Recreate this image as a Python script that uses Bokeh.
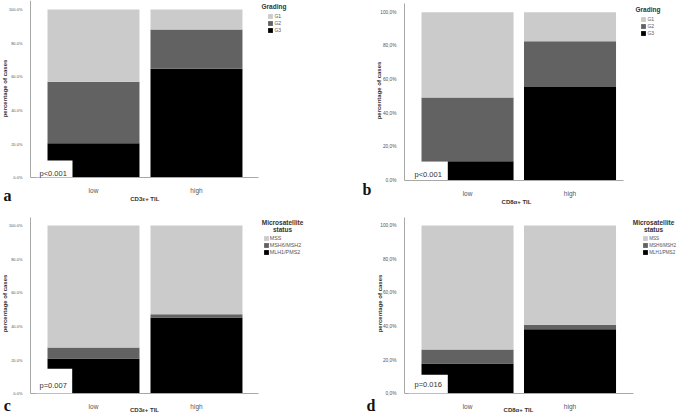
import math
from bokeh.plotting import figure
from bokeh.models import (ColumnDataSource, Range1d, FixedTicker, Label,
                          BoxAnnotation, Legend, LegendItem)
from bokeh.layouts import row, column
from bokeh.embed import file_html
from bokeh.resources import INLINE

# ---------------- data ----------------
categories = ["low", "high"]
grading_labels = ["G1", "G2", "G3"]
msi_labels = ["MSS", "MSH6/MSH2", "MLH1/PMS2"]

# a) CD3e+ TIL vs grading (percentage of cases)
cd3_G3 = [20.6, 64.8]
cd3_G2 = [36.4, 23.3]
cd3_G1 = [43.0, 11.9]
# b) CD8a+ TIL vs grading
cd8_G3 = [11.5, 55.6]
cd8_G2 = [37.8, 27.2]
cd8_G1 = [50.7, 17.2]
# c) CD3e+ TIL vs microsatellite status
cd3_MLH1 = [21.0, 45.3]
cd3_MSH6 = [6.5, 2.0]
cd3_MSS = [72.5, 52.7]
# d) CD8a+ TIL vs microsatellite status
cd8_MLH1 = [18.0, 38.4]
cd8_MSH6 = [8.3, 2.6]
cd8_MSS = [73.7, 59.0]

p_values = ["p<0.001", "p<0.001", "p=0.007", "p=0.016"]
panel_letters = ["a", "b", "c", "d"]
x_titles = ["CD3\u03b5+ TIL", "CD8\u03b1+ TIL", "CD3\u03b5+ TIL", "CD8\u03b1+ TIL"]
y_title = "percentage of cases"
y_ticks = [0, 20, 40, 60, 80, 100]
y_tick_labels_point = ["0.0%", "20.0%", "40.0%", "60.0%", "80.0%", "100.0%"]
y_tick_labels_comma = ["0,0%", "20,0%", "40,0%", "60,0%", "80,0%", "100,0%"]
legend_title_grading = ["Grading"]
legend_title_msi = ["Microsatellite", "status"]

seg_colors = ["#000000", "#626262", "#cbcbcb"]  # bottom -> top
FONT = "Liberation Sans"


def make_panel(idx, stacks, series_names, tick_labels, tick_font, width,
               height, xr, yr, y_axis_x, y_axis_top, x_axis_end, bar_w,
               ytitle_pos, xtitle_pos, letter_pos, pbox, ptext, legend_pos,
               legend_font, titles, title_x, title_tops, title_align):
    p = figure(width=width, height=height, x_range=Range1d(*xr),
               y_range=Range1d(*yr), output_backend="svg",
               toolbar_location=None, title=None,
               min_border_left=0, min_border_right=0,
               min_border_top=0, min_border_bottom=0,
               background_fill_color="white", border_fill_color="white",
               outline_line_color=None)
    src = ColumnDataSource(dict(x=list(range(len(categories))),
                                s0=stacks[0], s1=stacks[1], s2=stacks[2]))
    rs = p.vbar_stack(["s0", "s1", "s2"], x="x", width=bar_w,
                      color=seg_colors, line_color=None, source=src)
    p.xgrid.visible = False
    p.ygrid.visible = False

    xa = p.xaxis[0]
    xa.fixed_location = 0
    xa.bounds = (y_axis_x, x_axis_end)
    xa.ticker = FixedTicker(ticks=list(range(len(categories))), minor_ticks=[])
    xa.major_label_overrides = {i: c for i, c in enumerate(categories)}
    xa.axis_line_color = "#a8a8a8"
    xa.major_tick_line_color = None
    xa.minor_tick_line_color = None
    xa.major_label_standoff = 3
    xa.major_label_text_font = FONT
    xa.major_label_text_font_size = "6.5px"
    xa.major_label_text_color = "#555555"

    ya = p.yaxis[0]
    ya.fixed_location = y_axis_x
    ya.bounds = (0, y_axis_top)
    ya.ticker = FixedTicker(ticks=y_ticks, minor_ticks=[])
    ya.major_label_overrides = dict(zip(y_ticks, tick_labels))
    ya.axis_line_color = "#a8a8a8"
    ya.major_tick_line_color = None
    ya.minor_tick_line_color = None
    ya.major_label_standoff = 2
    ya.major_label_text_font = FONT
    ya.major_label_text_font_size = tick_font
    ya.major_label_text_color = "#555555"

    # axis titles
    p.add_layout(Label(x=ytitle_pos[0], y=ytitle_pos[1], x_units="screen",
                       y_units="screen", text=y_title, angle=math.pi / 2,
                       text_align="center", text_baseline="middle",
                       text_font=FONT, text_font_size="6px",
                       text_font_style="bold", text_color="#333333"))
    p.add_layout(Label(x=xtitle_pos[0], y=xtitle_pos[1], x_units="screen",
                       y_units="screen", text=x_titles[idx],
                       text_align="center", text_baseline="top",
                       text_font=FONT, text_font_size="6px",
                       text_font_style="bold", text_color="#333333"))

    # p-value box
    p.add_layout(BoxAnnotation(left=pbox[0], right=pbox[1], bottom=pbox[3],
                               top=pbox[2], left_units="screen",
                               right_units="screen", bottom_units="screen",
                               top_units="screen", fill_color="white",
                               fill_alpha=1.0, line_color=None))
    p.add_layout(Label(x=ptext[0], y=ptext[1], x_units="screen",
                       y_units="screen", text=p_values[idx],
                       text_baseline="alphabetic", text_align="left",
                       text_font=FONT, text_font_size="7.5px",
                       text_color="#333333"))

    # panel letter
    p.add_layout(Label(x=letter_pos[0], y=letter_pos[1], x_units="screen",
                       y_units="screen", text=panel_letters[idx],
                       text_font="Liberation Serif", text_font_style="bold",
                       text_font_size="16px", text_baseline="alphabetic",
                       text_color="#111111"))

    # legend
    items = [LegendItem(label=series_names[k], renderers=[rs[2 - k]])
             for k in range(3)]
    leg = Legend(items=items, location=legend_pos, orientation="vertical",
                 glyph_width=6, glyph_height=6, label_height=6,
                 label_width=10, spacing=1, padding=0, margin=0,
                 label_standoff=1, label_text_font=FONT,
                 label_text_font_size=legend_font, label_text_color="#555555",
                 border_line_color=None, background_fill_alpha=0)
    p.add_layout(leg)
    for t, top in zip(titles, title_tops):
        p.add_layout(Label(x=title_x, y=top, x_units="screen",
                           y_units="screen", text=t, text_align=title_align,
                           text_baseline="top", text_font=FONT,
                           text_font_size="6.5px", text_font_style="bold",
                           text_color="#333333"))
    return p


pa = make_panel(0, [cd3_G3, cd3_G2, cd3_G1], grading_labels,
                y_tick_labels_point, "4px", 338, 205,
                (-0.903, 2.379), (-16.46, 105.35), -0.612, 105.3, 1.602, 0.893,
                (4.7, 117), (144.3, 10), (3, 10), (36, 72, 45, 28.2),
                (39, 32.3), (267.4, 172.5), "5px", legend_title_grading, 261,
                [202.5], "left")
pb = make_panel(1, [cd8_G3, cd8_G2, cd8_G1], grading_labels,
                y_tick_labels_comma, "4.8px", 338, 205,
                (-1.259, 2.039), (-14.85, 106.95), -0.615, 105.2, 1.522, 0.898,
                (40, 115), (178, 6.7), (24, 16), (70.3, 109.3, 44, 25.5),
                (76, 31.5), (302.4, 169), "5px", legend_title_grading, 297,
                [199.2], "left")
pc = make_panel(2, [cd3_MLH1, cd3_MSH6, cd3_MSS], msi_labels,
                y_tick_labels_point, "4px", 338, 210,
                (-0.903, 2.379), (-12.89, 111.9), -0.612, 104.75, 1.602, 0.893,
                (4.7, 112), (144, 9), (3.3, 10), (35.7, 71.7, 46.7, 22.2),
                (39, 29.7), (262.7, 160), "5.4px", legend_title_msi, 282,
                [196.2, 189.2], "center")
pd_ = make_panel(3, [cd8_MLH1, cd8_MSH6, cd8_MSS], msi_labels,
                 y_tick_labels_comma, "4.8px", 338, 210,
                 (-1.259, 2.039), (-12.89, 111.9), -0.615, 104.75, 1.62, 0.898,
                 (41, 112), (180, 9), (28, 10), (70.3, 109.3, 40.7, 22.2),
                 (76, 31), (304.2, 160), "4.6px", legend_title_msi, 315,
                 [196.2, 189.2], "center")

layout = column(row(pa, pb, spacing=0), row(pc, pd_, spacing=0), spacing=0)
open("out.html", "w").write(file_html(layout, INLINE))
